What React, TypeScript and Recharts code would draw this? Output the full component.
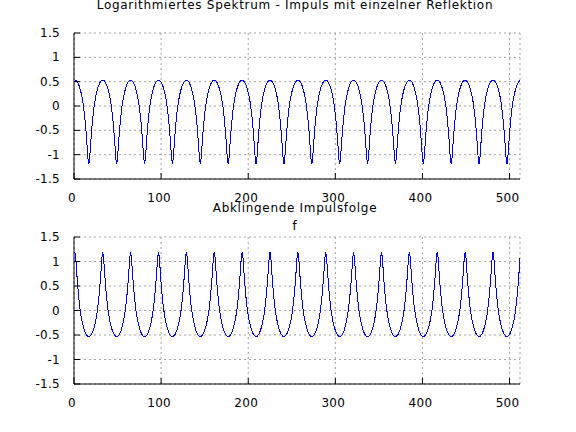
import { LineChart, Line, XAxis, YAxis, CartesianGrid } from "recharts";

const titleTop = "Logarithmiertes Spektrum - Impuls mit einzelner Reflektion";
const titleBottom = "Abklingende Impulsfolge";
const xLabel = "f";

const xTicks = [0, 100, 200, 300, 400, 500];
const yTicks = [-1.5, -1, -0.5, 0, 0.5, 1, 1.5];

// log spectrum, 512 bins (index 1..512)
const spektrum = [
  0.53, 0.53, 0.51, 0.49, 0.45, 0.41, 0.35, 0.28, 0.2, 0.1, -0.02, -0.17, -0.35, -0.56, -0.81, -1.07, -1.2, -1.07, -0.81, -0.56, -0.35, -0.17, -0.02, 0.1, 0.2, 0.28, 0.35, 0.41, 0.45, 0.49, 0.51, 0.53,
  0.53, 0.53, 0.51, 0.49, 0.45, 0.41, 0.35, 0.28, 0.2, 0.1, -0.02, -0.17, -0.35, -0.56, -0.81, -1.07, -1.2, -1.07, -0.81, -0.56, -0.35, -0.17, -0.02, 0.1, 0.2, 0.28, 0.35, 0.41, 0.45, 0.49, 0.51, 0.53,
  0.53, 0.53, 0.51, 0.49, 0.45, 0.41, 0.35, 0.28, 0.2, 0.1, -0.02, -0.17, -0.35, -0.56, -0.81, -1.07, -1.2, -1.07, -0.81, -0.56, -0.35, -0.17, -0.02, 0.1, 0.2, 0.28, 0.35, 0.41, 0.45, 0.49, 0.51, 0.53,
  0.53, 0.53, 0.51, 0.49, 0.45, 0.41, 0.35, 0.28, 0.2, 0.1, -0.02, -0.17, -0.35, -0.56, -0.81, -1.07, -1.2, -1.07, -0.81, -0.56, -0.35, -0.17, -0.02, 0.1, 0.2, 0.28, 0.35, 0.41, 0.45, 0.49, 0.51, 0.53,
  0.53, 0.53, 0.51, 0.49, 0.45, 0.41, 0.35, 0.28, 0.2, 0.1, -0.02, -0.17, -0.35, -0.56, -0.81, -1.07, -1.2, -1.07, -0.81, -0.56, -0.35, -0.17, -0.02, 0.1, 0.2, 0.28, 0.35, 0.41, 0.45, 0.49, 0.51, 0.53,
  0.53, 0.53, 0.51, 0.49, 0.45, 0.41, 0.35, 0.28, 0.2, 0.1, -0.02, -0.17, -0.35, -0.56, -0.81, -1.07, -1.2, -1.07, -0.81, -0.56, -0.35, -0.17, -0.02, 0.1, 0.2, 0.28, 0.35, 0.41, 0.45, 0.49, 0.51, 0.53,
  0.53, 0.53, 0.51, 0.49, 0.45, 0.41, 0.35, 0.28, 0.2, 0.1, -0.02, -0.17, -0.35, -0.56, -0.81, -1.07, -1.2, -1.07, -0.81, -0.56, -0.35, -0.17, -0.02, 0.1, 0.2, 0.28, 0.35, 0.41, 0.45, 0.49, 0.51, 0.53,
  0.53, 0.53, 0.51, 0.49, 0.45, 0.41, 0.35, 0.28, 0.2, 0.1, -0.02, -0.17, -0.35, -0.56, -0.81, -1.07, -1.2, -1.07, -0.81, -0.56, -0.35, -0.17, -0.02, 0.1, 0.2, 0.28, 0.35, 0.41, 0.45, 0.49, 0.51, 0.53,
  0.53, 0.53, 0.51, 0.49, 0.45, 0.41, 0.35, 0.28, 0.2, 0.1, -0.02, -0.17, -0.35, -0.56, -0.81, -1.07, -1.2, -1.07, -0.81, -0.56, -0.35, -0.17, -0.02, 0.1, 0.2, 0.28, 0.35, 0.41, 0.45, 0.49, 0.51, 0.53,
  0.53, 0.53, 0.51, 0.49, 0.45, 0.41, 0.35, 0.28, 0.2, 0.1, -0.02, -0.17, -0.35, -0.56, -0.81, -1.07, -1.2, -1.07, -0.81, -0.56, -0.35, -0.17, -0.02, 0.1, 0.2, 0.28, 0.35, 0.41, 0.45, 0.49, 0.51, 0.53,
  0.53, 0.53, 0.51, 0.49, 0.45, 0.41, 0.35, 0.28, 0.2, 0.1, -0.02, -0.17, -0.35, -0.56, -0.81, -1.07, -1.2, -1.07, -0.81, -0.56, -0.35, -0.17, -0.02, 0.1, 0.2, 0.28, 0.35, 0.41, 0.45, 0.49, 0.51, 0.53,
  0.53, 0.53, 0.51, 0.49, 0.45, 0.41, 0.35, 0.28, 0.2, 0.1, -0.02, -0.17, -0.35, -0.56, -0.81, -1.07, -1.2, -1.07, -0.81, -0.56, -0.35, -0.17, -0.02, 0.1, 0.2, 0.28, 0.35, 0.41, 0.45, 0.49, 0.51, 0.53,
  0.53, 0.53, 0.51, 0.49, 0.45, 0.41, 0.35, 0.28, 0.2, 0.1, -0.02, -0.17, -0.35, -0.56, -0.81, -1.07, -1.2, -1.07, -0.81, -0.56, -0.35, -0.17, -0.02, 0.1, 0.2, 0.28, 0.35, 0.41, 0.45, 0.49, 0.51, 0.53,
  0.53, 0.53, 0.51, 0.49, 0.45, 0.41, 0.35, 0.28, 0.2, 0.1, -0.02, -0.17, -0.35, -0.56, -0.81, -1.07, -1.2, -1.07, -0.81, -0.56, -0.35, -0.17, -0.02, 0.1, 0.2, 0.28, 0.35, 0.41, 0.45, 0.49, 0.51, 0.53,
  0.53, 0.53, 0.51, 0.49, 0.45, 0.41, 0.35, 0.28, 0.2, 0.1, -0.02, -0.17, -0.35, -0.56, -0.81, -1.07, -1.2, -1.07, -0.81, -0.56, -0.35, -0.17, -0.02, 0.1, 0.2, 0.28, 0.35, 0.41, 0.45, 0.49, 0.51, 0.53,
  0.53, 0.53, 0.51, 0.49, 0.45, 0.41, 0.35, 0.28, 0.2, 0.1, -0.02, -0.17, -0.35, -0.56, -0.81, -1.07, -1.2, -1.07, -0.81, -0.56, -0.35, -0.17, -0.02, 0.1, 0.2, 0.28, 0.35, 0.41, 0.45, 0.49, 0.51, 0.53,
];

// decaying impulse train, log spectrum
const impulsfolge = [
  1.2, 1.07, 0.81, 0.56, 0.35, 0.17, 0.02, -0.1, -0.2, -0.28, -0.35, -0.41, -0.45, -0.49, -0.51, -0.53, -0.53, -0.53, -0.51, -0.49, -0.45, -0.41, -0.35, -0.28, -0.2, -0.1, 0.02, 0.17, 0.35, 0.56, 0.81, 1.07,
  1.2, 1.07, 0.81, 0.56, 0.35, 0.17, 0.02, -0.1, -0.2, -0.28, -0.35, -0.41, -0.45, -0.49, -0.51, -0.53, -0.53, -0.53, -0.51, -0.49, -0.45, -0.41, -0.35, -0.28, -0.2, -0.1, 0.02, 0.17, 0.35, 0.56, 0.81, 1.07,
  1.2, 1.07, 0.81, 0.56, 0.35, 0.17, 0.02, -0.1, -0.2, -0.28, -0.35, -0.41, -0.45, -0.49, -0.51, -0.53, -0.53, -0.53, -0.51, -0.49, -0.45, -0.41, -0.35, -0.28, -0.2, -0.1, 0.02, 0.17, 0.35, 0.56, 0.81, 1.07,
  1.2, 1.07, 0.81, 0.56, 0.35, 0.17, 0.02, -0.1, -0.2, -0.28, -0.35, -0.41, -0.45, -0.49, -0.51, -0.53, -0.53, -0.53, -0.51, -0.49, -0.45, -0.41, -0.35, -0.28, -0.2, -0.1, 0.02, 0.17, 0.35, 0.56, 0.81, 1.07,
  1.2, 1.07, 0.81, 0.56, 0.35, 0.17, 0.02, -0.1, -0.2, -0.28, -0.35, -0.41, -0.45, -0.49, -0.51, -0.53, -0.53, -0.53, -0.51, -0.49, -0.45, -0.41, -0.35, -0.28, -0.2, -0.1, 0.02, 0.17, 0.35, 0.56, 0.81, 1.07,
  1.2, 1.07, 0.81, 0.56, 0.35, 0.17, 0.02, -0.1, -0.2, -0.28, -0.35, -0.41, -0.45, -0.49, -0.51, -0.53, -0.53, -0.53, -0.51, -0.49, -0.45, -0.41, -0.35, -0.28, -0.2, -0.1, 0.02, 0.17, 0.35, 0.56, 0.81, 1.07,
  1.2, 1.07, 0.81, 0.56, 0.35, 0.17, 0.02, -0.1, -0.2, -0.28, -0.35, -0.41, -0.45, -0.49, -0.51, -0.53, -0.53, -0.53, -0.51, -0.49, -0.45, -0.41, -0.35, -0.28, -0.2, -0.1, 0.02, 0.17, 0.35, 0.56, 0.81, 1.07,
  1.2, 1.07, 0.81, 0.56, 0.35, 0.17, 0.02, -0.1, -0.2, -0.28, -0.35, -0.41, -0.45, -0.49, -0.51, -0.53, -0.53, -0.53, -0.51, -0.49, -0.45, -0.41, -0.35, -0.28, -0.2, -0.1, 0.02, 0.17, 0.35, 0.56, 0.81, 1.07,
  1.2, 1.07, 0.81, 0.56, 0.35, 0.17, 0.02, -0.1, -0.2, -0.28, -0.35, -0.41, -0.45, -0.49, -0.51, -0.53, -0.53, -0.53, -0.51, -0.49, -0.45, -0.41, -0.35, -0.28, -0.2, -0.1, 0.02, 0.17, 0.35, 0.56, 0.81, 1.07,
  1.2, 1.07, 0.81, 0.56, 0.35, 0.17, 0.02, -0.1, -0.2, -0.28, -0.35, -0.41, -0.45, -0.49, -0.51, -0.53, -0.53, -0.53, -0.51, -0.49, -0.45, -0.41, -0.35, -0.28, -0.2, -0.1, 0.02, 0.17, 0.35, 0.56, 0.81, 1.07,
  1.2, 1.07, 0.81, 0.56, 0.35, 0.17, 0.02, -0.1, -0.2, -0.28, -0.35, -0.41, -0.45, -0.49, -0.51, -0.53, -0.53, -0.53, -0.51, -0.49, -0.45, -0.41, -0.35, -0.28, -0.2, -0.1, 0.02, 0.17, 0.35, 0.56, 0.81, 1.07,
  1.2, 1.07, 0.81, 0.56, 0.35, 0.17, 0.02, -0.1, -0.2, -0.28, -0.35, -0.41, -0.45, -0.49, -0.51, -0.53, -0.53, -0.53, -0.51, -0.49, -0.45, -0.41, -0.35, -0.28, -0.2, -0.1, 0.02, 0.17, 0.35, 0.56, 0.81, 1.07,
  1.2, 1.07, 0.81, 0.56, 0.35, 0.17, 0.02, -0.1, -0.2, -0.28, -0.35, -0.41, -0.45, -0.49, -0.51, -0.53, -0.53, -0.53, -0.51, -0.49, -0.45, -0.41, -0.35, -0.28, -0.2, -0.1, 0.02, 0.17, 0.35, 0.56, 0.81, 1.07,
  1.2, 1.07, 0.81, 0.56, 0.35, 0.17, 0.02, -0.1, -0.2, -0.28, -0.35, -0.41, -0.45, -0.49, -0.51, -0.53, -0.53, -0.53, -0.51, -0.49, -0.45, -0.41, -0.35, -0.28, -0.2, -0.1, 0.02, 0.17, 0.35, 0.56, 0.81, 1.07,
  1.2, 1.07, 0.81, 0.56, 0.35, 0.17, 0.02, -0.1, -0.2, -0.28, -0.35, -0.41, -0.45, -0.49, -0.51, -0.53, -0.53, -0.53, -0.51, -0.49, -0.45, -0.41, -0.35, -0.28, -0.2, -0.1, 0.02, 0.17, 0.35, 0.56, 0.81, 1.07,
  1.2, 1.07, 0.81, 0.56, 0.35, 0.17, 0.02, -0.1, -0.2, -0.28, -0.35, -0.41, -0.45, -0.49, -0.51, -0.53, -0.53, -0.53, -0.51, -0.49, -0.45, -0.41, -0.35, -0.28, -0.2, -0.1, 0.02, 0.17, 0.35, 0.56, 0.81, 1.07,
];

const W = 576;
const H = 216;
const PLOT_L = 74;
const PLOT_R = 520;
const FONT = "'DejaVu Sans', sans-serif";
const TICK = 6;

type PanelProps = { values: number[]; top: number; mt: number; ph: number };

function Panel({ values, top, mt, ph }: PanelProps) {
  const data = values.map((v, i) => ({ n: i + 1, v }));
  const plotTop = mt;
  const plotBottom = mt + ph;

  const bottomTick = (p: any) => (
    <g>
      <line x1={p.x} x2={p.x} y1={plotBottom} y2={plotBottom - TICK} stroke="#000" />
      <text x={p.x - 2} y={plotBottom + 23} textAnchor="middle" fontSize={12} fontFamily={FONT} fill="#000" letterSpacing={0.3}>
        {p.payload.value}
      </text>
    </g>
  );
  const topTick = (p: any) => (
    <line x1={p.x} x2={p.x} y1={plotTop} y2={plotTop + TICK} stroke="#000" />
  );
  const leftTick = (p: any) => (
    <g>
      <line x1={PLOT_L} x2={PLOT_L + TICK} y1={p.y} y2={p.y} stroke="#000" />
      <text x={PLOT_L - 14} y={p.y + 4} textAnchor="end" fontSize={12} fontFamily={FONT} fill="#000" letterSpacing={0.3}>
        {p.payload.value}
      </text>
    </g>
  );
  const rightTick = (p: any) => (
    <line x1={PLOT_R - TICK} x2={PLOT_R} y1={p.y} y2={p.y} stroke="#000" />
  );

  return (
    <div style={{ position: "absolute", left: 0, top, width: W, height: H }}>
      <LineChart width={W} height={H} data={data} margin={{ top: mt, right: W - PLOT_R, bottom: 0, left: 0 }}>
        <CartesianGrid stroke="#a0a0a0" strokeDasharray="2 3" />
        <XAxis
          dataKey="n"
          type="number"
          domain={[0, 512]}
          ticks={xTicks}
          interval={0}
          height={H - mt - ph}
          axisLine={{ stroke: "#000" }}
          tickLine={false}
          tick={bottomTick}
        />
        <XAxis
          xAxisId="top"
          orientation="top"
          type="number"
          domain={[0, 512]}
          ticks={xTicks}
          interval={0}
          height={0}
          axisLine={{ stroke: "#000", strokeWidth: 2 }}
          tickLine={false}
          tick={topTick}
        />
        <YAxis
          type="number"
          domain={[-1.5, 1.5]}
          ticks={yTicks}
          interval={0}
          width={PLOT_L}
          axisLine={{ stroke: "#000" }}
          tickLine={false}
          tick={leftTick}
        />
        <YAxis
          yAxisId="right"
          orientation="right"
          type="number"
          domain={[-1.5, 1.5]}
          ticks={yTicks}
          interval={0}
          width={0}
          axisLine={{ stroke: "#000", strokeWidth: 2 }}
          tickLine={false}
          tick={rightTick}
        />
        <Line
          type="linear"
          dataKey="v"
          stroke="#0000ff"
          strokeWidth={1}
          dot={false}
          activeDot={false}
          isAnimationActive={false}
        />
      </LineChart>
    </div>
  );
}

const textStyle = {
  position: "absolute" as const,
  left: 0,
  width: 590,
  textAlign: "center" as const,
  fontFamily: FONT,
  fontSize: 12,
  lineHeight: "14px",
  letterSpacing: "0.7px",
  color: "#000",
  whiteSpace: "nowrap" as const,
};

export default function App() {
  return (
    <div style={{ position: "fixed", left: 0, top: 0, width: W, height: 432, background: "#fff", overflow: "hidden" }}>
      <style>{`.recharts-line-curve{shape-rendering:crispEdges}`}</style>
      <Panel values={spektrum} top={0} mt={33} ph={146} />
      <Panel values={impulsfolge} top={216} mt={21} ph={147} />
      <div style={{ ...textStyle, top: -2 }}>{titleTop}</div>
      <div style={{ ...textStyle, top: 201 }}>{titleBottom}</div>
      <div style={{ ...textStyle, top: 219 }}>{xLabel}</div>
    </div>
  );
}
